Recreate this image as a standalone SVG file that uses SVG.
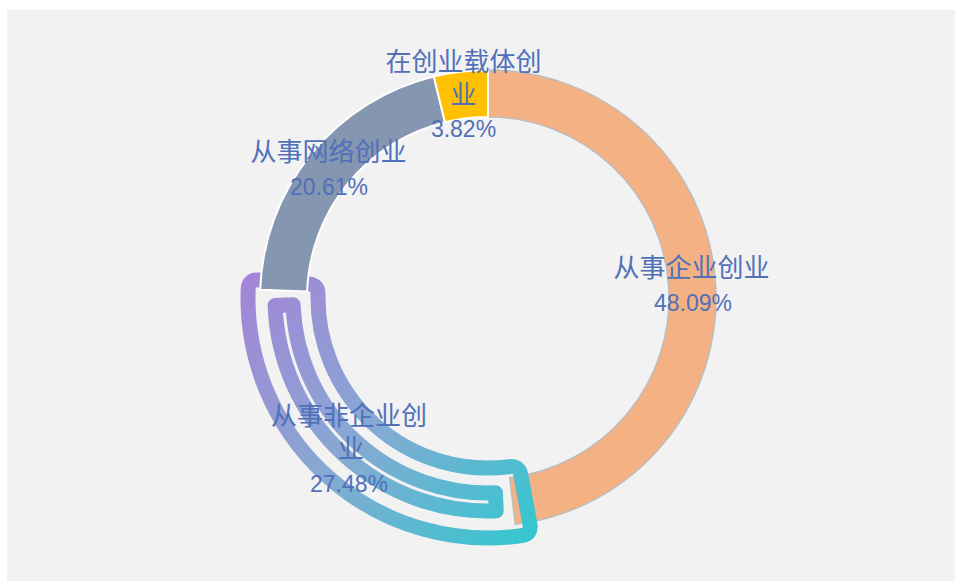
<svg xmlns="http://www.w3.org/2000/svg" width="955" height="581" viewBox="0 0 955 581">
  <defs>
    <linearGradient id="loopGrad" gradientUnits="userSpaceOnUse" x1="240" y1="280" x2="530" y2="540">
      <stop offset="0" stop-color="#a484d7"/>
      <stop offset="0.5" stop-color="#86a9d3"/>
      <stop offset="1" stop-color="#34c7cf"/>
    </linearGradient>
    <style>
      .lbl { font-family: "Noto Sans CJK SC", "Noto Sans", sans-serif; font-size: 26px; fill: #5070b8; text-anchor: middle; }
      .num { font-family: "Liberation Sans", "Noto Sans", sans-serif; font-size: 23px; }
      .loop { fill: none; stroke: url(#loopGrad); stroke-width: 15; stroke-linejoin: round; }
      .seg-light { stroke: #ffffff; stroke-width: 2; stroke-linejoin: round; }
    </style>
  </defs>

  <rect x="0" y="0" width="955" height="581" fill="#ffffff"/>
  <rect x="7" y="10" width="948" height="571" fill="#f2f2f2"/>

  <g id="node-qiye">
    <path d="M488,70 A228,228 0 0 1 515.31,524.36 L509.68,477.70 A181,181 0 0 0 488,117 Z" fill="#f4b183" stroke="#bdbdbd" stroke-width="1.5"/>
  </g>

  <g id="node-feiqiye">
    <path class="loop" d="M521.86,535.60 A240,240 0 0 1 248.16,289.16 Q248.74,279.17 258.71,279.95 L308.55,283.88 Q318.52,284.66 318.03,294.65 A170,170 0 0 0 509.10,466.69 Q518.98,465.15 520.80,474.99 L529.92,524.15 Q531.74,533.98 521.86,535.60 Z"/>
    <path class="loop" d="M496.18,510.84 A213,213 0 0 1 275.13,305.43 L293.12,304.81 A195,195 0 0 0 495.49,492.86 Z"/>
  </g>

  <g id="node-wangluo">
    <path class="seg-light" d="M260.15,289.84 A228,228 0 0 1 433.81,76.53 L444.98,122.19 A181,181 0 0 0 307.12,291.53 Z" fill="#8496b0"/>
  </g>

  <g id="node-zaiti">
    <path class="seg-light" d="M433.81,76.53 A228,228 0 0 1 488,70 L488,117 A181,181 0 0 0 444.98,122.19 Z" fill="#ffc000"/>
  </g>

  <g id="labels">
    <text class="lbl" id="label-zaiti"><tspan x="463.5" y="71">在创业载体创</tspan><tspan x="463.5" y="104">业</tspan><tspan class="num" x="463.5" y="137">3.82%</tspan></text>
    <text class="lbl" id="label-wangluo"><tspan x="328.5" y="161">从事网络创业</tspan><tspan class="num" x="329" y="195">20.61%</tspan></text>
    <text class="lbl" id="label-qiye"><tspan x="691.5" y="277">从事企业创业</tspan><tspan class="num" x="693" y="311">48.09%</tspan></text>
    <text class="lbl" id="label-feiqiye"><tspan x="349" y="425">从事非企业创</tspan><tspan x="351" y="458">业</tspan><tspan class="num" x="349" y="492">27.48%</tspan></text>
  </g>
</svg>
